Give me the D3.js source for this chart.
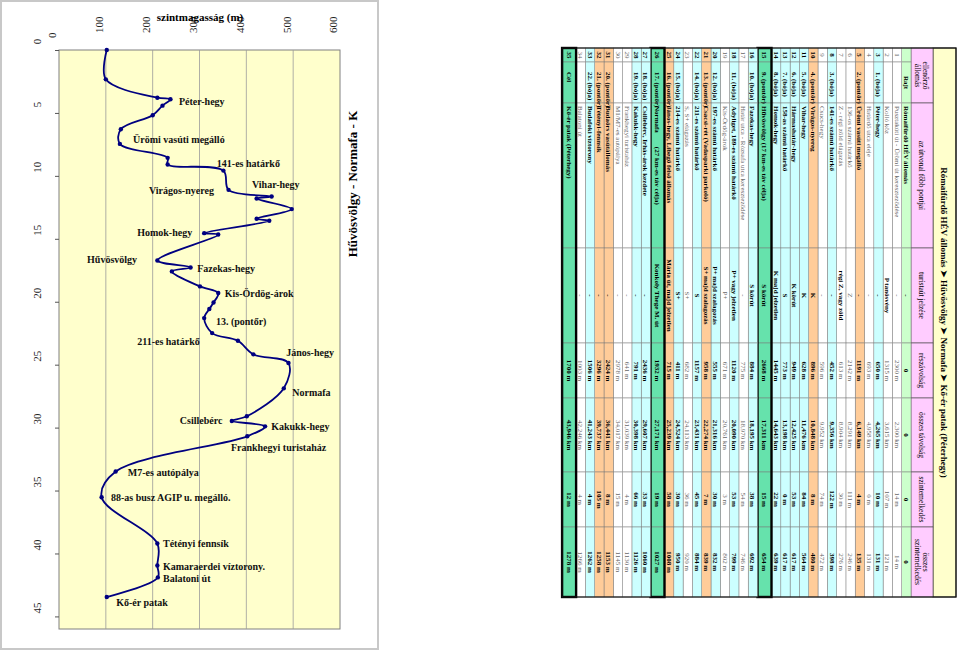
<!DOCTYPE html>
<html>
<head>
<meta charset="utf-8">
<script src="https://cdn.jsdelivr.net/npm/d3@7"></script>
<style>
body { margin: 0; background: #fff; }
text { font-family: "Liberation Serif", "Times New Roman", serif; }
</style>
</head>
<body>
<svg id="chart" width="960" height="652"></svg>
<script>
// --- profile ---
const distKm = [0, 2.33, 3.79, 3.91, 4.42, 5.18, 6.3, 7.46, 8.57, 9.1, 9.58, 11.11, 11.64, 11.8, 12.64,
  13.41, 13.57, 14.55, 14.66, 16.72, 17.28, 17.59, 18.78, 19.31, 20.06, 20.58, 21.3, 22.49, 23.1, 24.18,
  24.87, 26.88, 29.1, 29.47, 29.9, 30.69, 33.49, 35.53, 39.21, 40.95, 41.9, 43.46];
const elevM = [102, 100, 210, 238, 221, 200, 132, 130, 232, 232, 351, 362, 454, 422, 497,
  422, 449, 310, 340, 210, 281, 241, 301, 340, 330, 321, 310, 327, 382, 415,
  490, 480, 401, 369, 440, 402, 121, 91, 210, 210, 211, 102];

// annotation text with its place in data units [name, km, m]
const placeLabels = [
  ["Péter-hegy", 4.13, 256], ["Ürömi vasúti megálló", 7.14, 158], ["141-es határkő", 9.05, 337],
  ["Vihar-hegy", 10.71, 412], ["Virágos-nyereg", 11.19, 192], ["Homok-hegy", 14.52, 167],
  ["Hűvösvölgy", 16.67, 60], ["Fazekas-hegy", 17.38, 295], ["Kis-Ördög-árok", 19.37, 354],
  ["13. (pontőr)", 21.59, 335], ["211-es határkő", 23.17, 167], ["János-hegy", 24.05, 485],
  ["Normafa", 27.22, 498], ["Csillebérc", 29.44, 258], ["Kakukk-hegy", 29.92, 453],
  ["Frankhegyi turistaház", 31.59, 367], ["M7-es autópálya", 33.57, 147],
  ["88-as busz AGIP u. megálló.", 35.56, 111], ["Tétényi fennsík", 39.21, 222],
  ["Kamaraerdei víztorony.", 41.03, 222], ["Balatoni út", 41.98, 222], ["Kő-ér patak", 43.89, 122]
];
const elevTicks = [0, 100, 200, 300, 400, 500, 600];
const distTicks = [0, 5, 10, 15, 20, 25, 30, 35, 40, 45];

// --- table ---
const tableTitle = "Rómaifürdő HÉV állomás ➤ Hűvösvölgy ➤ Normafa ➤ Kő-ér patak (Péterhegy)";
const headers = [["ellenőrző", "állomás"], ["az útvonal főbb pontjai"], ["turistaút jelzése"],
  ["részávolság"], ["összes távolság"], ["szintemelkedés"], ["összes", "szintemelkedés"]];
const rowNo = ["", "1", "2", "3", "4", "5", "6", "7", "8", "9", "10", "11", "12", "13", "14", "15", "16", "17",
  "18", "19", "20", "21", "22", "23", "24", "25", "26", "27", "28", "29", "30", "31", "32", "33", "34", "35"];
const checkpoint = ["Rajt", "", "", "1. (bója)", "", "2. (pontőr)", "", "", "3. (bója)", "", "4. (pontőr)",
  "5. (bója)", "6. (bója)", "7. (bója)", "8. (bója)", "9. (pontőr)", "10. (bója)", "", "11. (bója)", "",
  "12. (bója)", "13. (pontőr)", "14. (bója)", "", "15. (bója)", "16. (pontőr)", "17. (pontőr)", "18. (bója)",
  "19. (bója)", "", "", "20. (pontőr)", "21. (pontőr)", "22. (bója)", "", "Cél"];
const placeName = ["Rómaifürdő HÉV állomás", "Pusztakúti út - Ürömi út kereszteződése", "Kolló köz", "Péter-hegy",
  "Határdő utca eleje", "Ürömi vasúti megálló", "136-os számú határkő", "Z - régi zöld elágazás",
  "141-es számú határkő", "Csucs-hegy", "Virágos-nyereg", "Vihar-hegy", "Hármashatár-hegy",
  "158-as számú határkő", "Homok-hegy", "Hűvösvölgy (17 km-es táv célja)", "Fazekas-hegy",
  "Határ utca - Rózsafa utca kereszteződése", "Adyliget, 189-es számú határkő", "Kis-Ördög-árok",
  "197-es számú határkő", "Csacsi-rét (Vadasparki parkoló)", "211-es számú határkő", "S, S+ elágazás",
  "214-es számú határkő", "János-hegy, Libegő felső állomás", "Normafa        (27 km-es táv célja)",
  "Csillebérc, Irhás-árok kezdete", "Kakukk-hegy", "Frankhegyi turistaház", "M1/M7-es autópálya",
  "Budaörs vasútállomás", "Tétényi-fennsík", "Budafoki víztorony", "Balatoni út", "Kő-ér patak (Péterhegy)"];
const trailMark = ["-", "-", "P tanösvény", "-", "-", "-", "Z", "régi Z, vagy zöld", "-", "-", "K", "K",
  "K körút", "S", "K majd jelzetlen", "S körút", "S körút", "-", "P+ vagy jelzetlen", "P+",
  "P+ majd szalagozás", "S+ majd szalagozás", "S", "S+", "S+", "Mária út, majd jelzetlen",
  "Konkoly Thege M. út", "-", "-", "-", "-", "-", "-", "-", "-", ""];
const boldMarkRows = ["2", "7"];
const segment = ["0", "2300 m", "1315 m", "650 m", "693 m", "1191 m", "2142 m", "613 m", "452 m", "596 m",
  "896 m", "628 m", "949 m", "773 m", "1445 m", "2668 m", "884 m", "775 m", "1120 m", "671 m", "555 m",
  "958 m", "1157 m", "682 m", "411 m", "715 m", "1932 m", "2436 m", "791 m", "641 m", "2978 m", "2424 m",
  "3296 m", "1506 m", "1003 m", "1700 m"];
const totalDist = ["0", "2,300 km", "3,615 km", "4,265 km", "4,958 km", "6,149 km", "8,291 km", "8,904 km",
  "9,356 km", "9,952 km", "10,848 km", "11,476 km", "12,425 km", "13,198 km", "14,643 km", "17,311 km",
  "18,195 km", "18,970 km", "20,090 km", "20,761 km", "21,316 km", "22,274 km", "23,431 km", "24,113 km",
  "24,524 km", "25,239 km", "27,171 km", "29,607 km", "30,398 km", "31,039 km", "34,017 km", "36,441 km",
  "39,737 km", "41,243 km", "42,246 km", "43,946 km"];
const climb = ["0", "14 m", "107 m", "10 m", "0 m", "4 m", "111 m", "30 m", "122 m", "74 m", "8 m", "84 m",
  "53 m", "0 m", "22 m", "15 m", "38 m", "54 m", "53 m", "3 m", "30 m", "7 m", "45 m", "36 m", "30 m",
  "58 m", "19 m", "33 m", "66 m", "4 m", "15 m", "8 m", "105 m", "4 m", "4 m", "12 m"];
const totalClimb = ["0", "14 m", "121 m", "131 m", "131 m", "135 m", "246 m", "276 m", "398 m", "472 m",
  "480 m", "564 m", "617 m", "617 m", "639 m", "654 m", "692 m", "746 m", "799 m", "802 m", "832 m",
  "839 m", "884 m", "920 m", "950 m", "1008 m", "1027 m", "1060 m", "1126 m", "1130 m", "1145 m",
  "1153 m", "1258 m", "1262 m", "1266 m", "1278 m"];
const goalRows = ["15", "26", "35"];

const svg = d3.select("#chart");

// ================= chart =================
const plot = {left: 59, right: 340, top: 50, bottom: 629};
const x = d3.scaleLinear().domain([0, 600]).range([plot.left, plot.right]);
const y = d3.scaleLinear().domain([0, 46]).range([plot.top, plot.bottom]);

svg.append("rect").attr("x", 1).attr("y", 1).attr("width", 377).attr("height", 648)
  .attr("fill", "#fff").attr("stroke", "#c8c8c8").attr("stroke-width", 2);

svg.append("rect")
  .attr("x", plot.left).attr("y", plot.top)
  .attr("width", plot.right - plot.left).attr("height", plot.bottom - plot.top)
  .attr("fill", "#ffffcc").attr("stroke", "#808080");

svg.append("g").selectAll("line")
  .data(elevTicks.slice(1, -1))
  .join("line")
  .attr("x1", d => x(d)).attr("x2", d => x(d))
  .attr("y1", plot.top).attr("y2", plot.bottom)
  .attr("stroke", "#9a9a9a").attr("stroke-width", 0.8);

const yAxis = svg.append("g")
  .attr("transform", `translate(${plot.left},0)`)
  .call(d3.axisLeft(y).tickValues(distTicks).tickSize(4))
  .call(g => g.select(".domain").remove());
yAxis.selectAll("line").attr("stroke", "#555");
yAxis.selectAll("text")
  .attr("x", 0).attr("dy", "0.35em")
  .attr("transform", "translate(-22,-9) rotate(-90)")
  .attr("text-anchor", "middle")
  .attr("font-family", "Liberation Serif").attr("font-size", 11).attr("fill", "#222");

const xAxis = svg.append("g")
  .attr("transform", `translate(0,${plot.top})`)
  .call(d3.axisTop(x).tickValues(elevTicks).tickSize(0))
  .call(g => g.select(".domain").remove());
xAxis.selectAll("text")
  .attr("y", 0).attr("dy", "0.35em")
  .attr("transform", (d, i) => i === 0 ? "translate(-7,-12) rotate(-90)" : "translate(-7,-17) rotate(-90)")
  .attr("text-anchor", "start")
  .attr("font-family", "Liberation Serif").attr("font-size", 11).attr("fill", "#222");

svg.append("text")
  .attr("x", 200).attr("y", 17).attr("dy", "0.35em")
  .attr("text-anchor", "middle").attr("font-weight", "bold").attr("font-size", 11)
  .text("szintmagasság (m)");

svg.append("text")
  .attr("transform", "translate(352,184) rotate(-90)")
  .attr("dy", "0.35em")
  .attr("text-anchor", "middle").attr("font-weight", "bold").attr("font-size", 13)
  .text("Hűvösvölgy  -  Normafa - K");

const pts = distKm.map((d, i) => [d, elevM[i]]);
const line = d3.line().x(d => x(d[1])).y(d => y(d[0])).curve(d3.curveCatmullRom.alpha(0.5));

svg.append("path").datum(pts)
  .attr("d", line).attr("fill", "none")
  .attr("stroke", "#000080").attr("stroke-width", 1.8);

svg.append("g").selectAll("circle")
  .data(pts).join("circle")
  .attr("cx", d => x(d[1])).attr("cy", d => y(d[0])).attr("r", 2.2)
  .attr("fill", "#000080");

svg.append("g").selectAll("text")
  .data(placeLabels).join("text")
  .attr("x", d => x(d[2])).attr("y", d => y(d[1])).attr("dy", "0.35em")
  .attr("font-weight", "bold").attr("font-size", 10).attr("fill", "#111")
  .text(d => d[0]);

// ================= table (drawn upright, then turned a quarter clockwise) =================
const colEdges = [0, 55, 200, 295, 350, 424, 479, 549];
const numW = 14;
const titleH = 23, headH = 22, rowH = 9.3, goalH = 14;

const rowTop = [];
let acc = titleH + headH;
rowNo.forEach((n, i) => {
  rowTop.push(acc);
  acc += goalRows.includes(n) ? goalH : rowH;
});
const tableH = acc;
const tableW = colEdges[colEdges.length - 1];

const fillFor = i => {
  if (i === 0) return "#ccffcc";
  if (goalRows.includes(rowNo[i])) return "#66e2ac";
  if (checkpoint[i].includes("pontőr")) return "#ffcc99";
  if (checkpoint[i].includes("bója")) return "#ccffff";
  return "#ffffff";
};
const isStrong = i => checkpoint[i] !== "";

const tbl = svg.append("g").attr("transform", "translate(956,48) rotate(90)");

// title band
tbl.append("rect").attr("x", 0).attr("y", 0).attr("width", tableW).attr("height", titleH)
  .attr("fill", "#ffffcc").attr("stroke", "#222").attr("stroke-width", 0.8);
tbl.append("text").attr("x", tableW / 2).attr("y", titleH / 2).attr("dy", "0.35em")
  .attr("text-anchor", "middle").attr("font-weight", "bold").attr("font-size", 9)
  .text(tableTitle);

// header
const head = tbl.append("g").selectAll("g").data(headers).join("g");
head.append("rect")
  .attr("x", (d, i) => colEdges[i]).attr("y", titleH)
  .attr("width", (d, i) => colEdges[i + 1] - colEdges[i]).attr("height", headH)
  .attr("fill", "#ffccff").attr("stroke", "#444").attr("stroke-width", 0.6);
head.append("text")
  .attr("text-anchor", "middle").attr("font-size", 7.5)
  .selectAll("tspan").data((d, i) => d.map((t, k) => ({t, k, n: d.length, i}))).join("tspan")
  .attr("x", d => (colEdges[d.i] + colEdges[d.i + 1]) / 2)
  .attr("y", d => titleH + headH / 2 + (d.k - (d.n - 1) / 2) * 8)
  .attr("dy", "0.35em")
  .text(d => d.t);

// body rows
const rows = tbl.append("g").selectAll("g").data(rowNo).join("g")
  .attr("transform", (d, i) => `translate(0,${rowTop[i]})`);

rows.each(function (n, i) {
  const g = d3.select(this);
  const h = goalRows.includes(n) ? goalH : rowH;
  const strong = isStrong(i);
  const markStrong = strong || boldMarkRows.includes(n);
  const cells = [
    {x0: 0, x1: numW, t: n, a: "middle", b: strong},
    {x0: numW, x1: colEdges[1], t: checkpoint[i], a: i === 0 ? "middle" : "start", pad: 10, b: strong},
    {x0: colEdges[1], x1: colEdges[2], t: placeName[i], a: "start", pad: 3, b: strong},
    {x0: colEdges[2], x1: colEdges[3], t: trailMark[i], a: "middle", b: markStrong},
    {x0: colEdges[3], x1: colEdges[4], t: segment[i], a: "middle", b: strong},
    {x0: colEdges[4], x1: colEdges[5], t: totalDist[i], a: "middle", b: strong},
    {x0: colEdges[5], x1: colEdges[6], t: climb[i], a: "middle", b: strong},
    {x0: colEdges[6], x1: colEdges[7], t: totalClimb[i], a: "middle", b: strong}
  ];
  g.selectAll("rect").data(cells).join("rect")
    .attr("x", c => c.x0).attr("y", 0)
    .attr("width", c => c.x1 - c.x0).attr("height", h)
    .attr("fill", fillFor(i)).attr("stroke", "#7a7a7a").attr("stroke-width", 0.5);
  g.selectAll("text").data(cells).join("text")
    .attr("x", c => c.a === "middle" ? (c.x0 + c.x1) / 2 : c.x0 + c.pad)
    .attr("y", h / 2).attr("dy", "0.35em")
    .attr("text-anchor", c => c.a)
    .attr("font-size", 7)
    .attr("font-weight", c => c.b ? "bold" : "normal")
    .attr("fill", c => c.b ? "#000" : "#666")
    .style("white-space", "pre")
    .text(c => c.t);
  if (goalRows.includes(n)) {
    g.append("rect").attr("x", 0).attr("y", 0).attr("width", tableW).attr("height", h)
      .attr("fill", "none").attr("stroke", "#000").attr("stroke-width", 2.4);
  }
});

tbl.append("rect").attr("x", 0).attr("y", 0).attr("width", tableW).attr("height", tableH)
  .attr("fill", "none").attr("stroke", "#111").attr("stroke-width", 1.2);
</script>
</body>
</html>
